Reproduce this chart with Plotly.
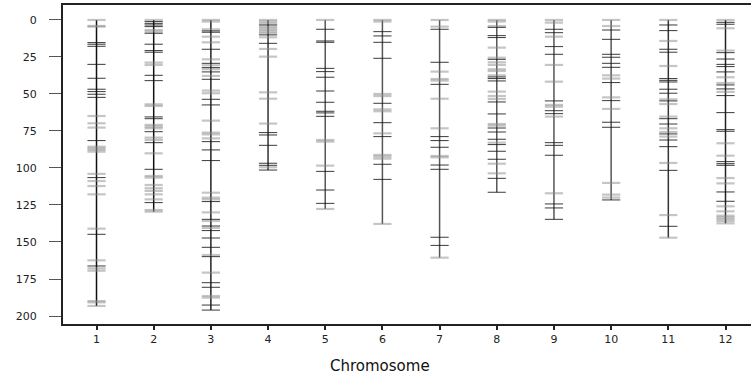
import plotly.graph_objects as go

chromosomes = [1, 2, 3, 4, 5, 6, 7, 8, 9, 10, 11, 12]

# marker positions (cM), split into dark and grey markers
dark_markers = {
    1: [15.3, 16.4, 17.8, 30, 39.4, 46.8, 48.4, 50.2, 52.3, 81.5, 106.5, 144.8, 166.2],
    2: [1.1, 2.3, 3.4, 4.5, 9, 16.4, 20.7, 21.8, 37.4, 41, 65.5, 66.7, 75.5, 82.9, 100.9, 123.4],
    3: [7.4, 8.3, 19.8, 29.3, 32.2, 35.1, 40.1, 53.6, 57.4, 82.2, 87.8, 95, 122.7, 134.7, 139.2,
        142.3, 147.3, 153.6, 159.9, 177.5, 180.6, 192.6, 196],
    4: [3.4, 10.1, 15.8, 76.1, 77.7, 84.7, 96.8, 98.2, 101.4],
    5: [6.3, 14.2, 15.1, 32.7, 34.9, 38.7, 48, 55.6, 61.7, 62.8, 65.1, 102.3, 114.9, 123.9],
    6: [7.9, 10.8, 15.1, 25.9, 56.3, 69.4, 78.8, 97.5, 107.7],
    7: [6.3, 28.6, 43.5, 78.8, 81.5, 86, 98, 100.9, 146.8, 152.3],
    8: [5, 10.6, 11.9, 26.6, 38.5, 39.6, 41.2, 55.4, 63.5, 73, 75.7, 80.6, 84.2, 88.7, 94.1, 107, 116.4],
    9: [6.3, 8.6, 18, 23.2, 54.7, 61.3, 63.3, 82.9, 84.7, 91.4, 124.3, 127, 134.7],
    10: [6.8, 13.1, 23.2, 25.2, 29.3, 32, 42.3, 54.5, 69.1, 72.5, 121.6],
    11: [3.4, 7.2, 19.8, 21.8, 39.6, 40.8, 41.9, 46.8, 49.5, 54.7, 66.7, 70.3, 77, 81.1, 85.6,
         101.6, 139.4],
    12: [1.6, 2.9, 22.1, 26.4, 30, 31.5, 35.1, 43.9, 46.6, 51.1, 62.6, 74.1, 75.2, 95.7, 97.1,
         98.2, 116.2, 122.5],
}

grey_markers = {
    1: [0, 4.05, 4.5, 64.9, 69.8, 72.7, 85.6, 86.7, 87.8, 89, 104, 108.8, 112.2, 117.8, 141,
        162.4, 167.8, 169.4, 189.9, 190.8, 193.2],
    2: [0, 6.8, 7.9, 28.8, 30.4, 57, 58.1, 70.9, 72.1, 73.2, 79.5, 81.1, 90.1, 105.4, 106.5,
        111.5, 113.7, 115.5, 117.8, 121.2, 128.4, 129.5],
    3: [0, 1.1, 6.3, 11.3, 15.1, 26.6, 30.6, 33.3, 37.8, 47.7, 49.5, 68, 76.1, 77.3, 80, 116.7,
        120, 121.2, 130, 135.8, 140.5, 158.8, 170.7, 186.5, 187.6],
    4: [0, 1.1, 2.3, 4.5, 5.6, 6.8, 7.9, 9, 11.7, 19.6, 24.8, 48.9, 53.2, 70, 99.5],
    5: [0, 81.1, 82.2, 98.4, 127.7],
    6: [0, 1.1, 50, 51.4, 60.4, 61.7, 76.6, 91.2, 92.3, 93.7, 137.8],
    7: [0, 4.5, 34.9, 39.9, 41, 53.2, 73.2, 91.9, 92.8, 160.6],
    8: [0, 1.1, 4.1, 18.7, 25.5, 28.6, 30.4, 33.3, 34.5, 37.4, 48.4, 51.4, 53.4, 70.3, 71.4,
        82.9, 97.1, 103.6],
    9: [0, 1.8, 11.3, 30.4, 41.7, 57.4, 58.6, 65.3, 117.1],
    10: [0, 4.1, 37.4, 39.6, 52.3, 60.1, 110.1, 118, 120],
    11: [0, 14.2, 31.1, 53.6, 56.8, 65.3, 73.2, 75.7, 78.8, 96.6, 131.8, 147.1],
    12: [0, 5.6, 20.7, 38.7, 42.6, 48.6, 83.3, 91.7, 106.8, 110.4, 125.9, 129.3, 132.2, 133.3,
         134.5, 135.8, 137.4],
}

y_ticks = [0, 25, 50, 75, 100, 125, 150, 175, 200]

chrom_line_colors = ["#111", "#111", "#222", "#333", "#555", "#555",
                     "#555", "#555", "#555", "#555", "#333", "#222"]

fig = go.Figure()

for i, c in enumerate(chromosomes):
    length = max(dark_markers[c] + grey_markers[c])
    fig.add_trace(go.Scatter(
        x=[c, c], y=[0, length], mode="lines",
        line=dict(color=chrom_line_colors[i], width=1.5),
        hoverinfo="skip", showlegend=False))
    fig.add_trace(go.Scatter(
        x=[c] * len(grey_markers[c]), y=grey_markers[c], mode="markers",
        marker=dict(symbol="line-ew", size=13,
                    line=dict(color="rgba(140,140,140,0.5)", width=2.2)),
        showlegend=False))
    fig.add_trace(go.Scatter(
        x=[c] * len(dark_markers[c]), y=dark_markers[c], mode="markers",
        marker=dict(symbol="line-ew", size=13,
                    line=dict(color="rgba(25,25,25,0.85)", width=1)),
        showlegend=False))

fig.update_layout(
    width=751, height=377,
    margin=dict(l=63, r=0, t=5, b=53),
    plot_bgcolor="white", paper_bgcolor="white",
    font=dict(family="DejaVu Sans, Liberation Sans, sans-serif", size=11, color="#333"),
    xaxis=dict(
        range=[0.414, 12.446], tickmode="array", tickvals=chromosomes,
        ticktext=[str(c) for c in chromosomes],
        showgrid=False, zeroline=False,
        showline=True, linecolor="#222", linewidth=2, mirror=True,
        ticks="outside", ticklen=4, tickcolor="#222", tickwidth=1.5,
        tickfont=dict(size=11, color="#222"),
    ),
    yaxis=dict(
        range=[205.4, -10.1], tickmode="array", tickvals=y_ticks,
        showgrid=False, zeroline=False,
        showline=True, linecolor="#222", linewidth=2,
        ticks="outside", ticklen=12, tickcolor="#555", tickwidth=1.2,
        ticklabelstandoff=10,
        tickfont=dict(size=11, color="#222"),
    ),
    annotations=[dict(
        text="Chromosome", xref="paper", yref="paper",
        x=0.461, y=-0.132, xanchor="center", yanchor="middle",
        showarrow=False, font=dict(size=15, color="#111"))],
)

fig.write_html("out.html")
